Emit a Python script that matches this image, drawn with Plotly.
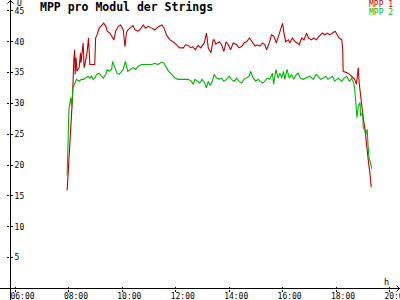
import plotly.graph_objects as go

# ---------------- data ----------------
mpp1_time = ["07:56","07:58","08:02","08:06","08:08","08:11","08:13","08:14","08:16","08:18",
             "08:23","08:26","08:27","08:32","08:34","08:36","08:41","08:44","08:45","08:47",
             "08:58","08:59","09:00","09:03","09:08","09:14","09:18","09:23","09:26","09:32",
             "09:38","09:41","09:45","09:51","09:56","10:02","10:05","10:06","10:09","10:12",
             "10:17","10:24","10:28","10:34","10:39","10:47","10:52","10:58","11:06","11:13",
             "11:20","11:29","11:34","11:39","11:47","11:54","12:02","12:09","12:17","12:22",
             "12:28","12:34","12:38","12:44","12:50","12:56","13:04","13:09","13:13","13:19",
             "13:24","13:26","13:30","13:38","13:43","13:48","13:53","13:58","14:03","14:09",
             "14:17","14:22","14:29","14:33","14:39","14:46","14:53","14:58","15:03","15:09",
             "15:15","15:20","15:24","15:30","15:35","15:40","15:46","15:51","15:55","16:00",
             "16:03","16:07","16:13","16:16","16:22","16:28","16:33","16:37","16:43","16:48",
             "16:54","16:58","17:05","17:10","17:16","17:22","17:30","17:35","17:40","17:46",
             "17:52","17:58","18:03","18:07","18:13","18:15","18:16","18:27","18:35","18:42",
             "18:46","18:48","18:50","18:52","18:55","18:58","19:01","19:05","19:07","19:10",
             "19:13","19:16","19:19"]
mpp1_val = [15.9,18.3,23.1,27.9,30.9,37.1,38.7,34.7,37.4,35.2,
            35.8,38.2,36.6,39.8,35.8,36.3,38.4,40.6,37.9,36.3,
            36.3,39.8,40.6,41.1,42.2,42.7,43.0,42.5,41.7,41.4,
            40.6,40.3,41.7,42.5,42.7,41.9,39.8,39.2,41.4,41.9,
            42.2,42.6,42.0,41.7,41.9,42.7,42.2,42.5,42.2,41.9,
            42.4,42.7,42.2,41.1,40.3,40.0,39.5,39.0,39.0,39.5,
            39.4,39.0,39.2,38.7,39.4,39.0,39.8,41.4,39.0,38.2,
            40.3,40.3,39.6,40.0,39.5,38.4,40.0,39.5,38.7,39.8,
            39.5,39.0,39.3,39.8,40.0,40.6,39.8,39.3,39.5,39.3,
            39.8,39.5,38.7,39.8,41.1,40.9,39.8,41.1,41.7,43.0,
            41.4,40.0,40.3,39.8,40.6,40.0,39.8,39.5,40.6,40.3,
            41.4,40.6,40.3,40.6,40.3,40.9,41.4,41.1,41.4,41.1,
            41.4,41.7,41.1,40.6,40.3,38.7,35.2,34.9,34.4,33.9,
            33.1,35.2,35.8,33.3,31.2,29.6,27.7,25.8,24.2,22.0,
            20.4,18.8,16.4]

mpp2_time = ["07:56","07:58","08:00","08:04","08:06","08:09","08:13","08:17","08:23","08:28",
             "08:33","08:38","08:43","08:47","08:51","08:54","08:58","09:02","09:08","09:13",
             "09:17","09:23","09:26","09:30","09:36","09:38","09:43","09:48","09:53","09:58",
             "10:02","10:06","10:07","10:12","10:17","10:24","10:30","10:35","10:43","10:54",
             "11:06","11:13","11:20","11:28","11:34","11:39","11:44","11:51","11:58","12:05",
             "12:17","12:28","12:35","12:39","12:43","12:49","12:54","12:59","13:05","13:09",
             "13:13","13:17","13:22","13:26","13:32","13:38","13:43","13:48","13:54","14:00",
             "14:05","14:11","14:17","14:22","14:28","14:33","14:39","14:45","14:48","14:54",
             "15:00","15:05","15:09","15:15","15:20","15:25","15:31","15:37","15:40","15:45",
             "15:50","15:54","15:58","16:02","16:05","16:10","16:15","16:20","16:25","16:31",
             "16:35","16:40","16:46","16:54","17:01","17:09","17:15","17:20","17:25","17:31",
             "17:37","17:42","17:46","17:52","17:57","18:05","18:13","18:18","18:24","18:30",
             "18:35","18:40","18:42","18:44","18:47","18:50","18:54","18:55","19:00","19:01",
             "19:05","19:07","19:10","19:12","19:14","19:18","19:20"]
mpp2_val = [18.3,23.1,29.0,30.9,29.6,32.5,33.3,33.9,33.6,33.9,
            33.9,34.1,34.4,34.1,34.4,33.9,34.1,34.7,34.9,34.4,
            34.1,34.7,35.5,35.2,35.5,36.8,35.8,34.9,34.7,35.2,
            35.5,36.6,36.8,35.2,35.5,35.8,35.5,36.0,36.3,36.3,
            36.3,36.5,36.3,36.7,36.5,35.8,35.2,34.7,34.1,33.9,
            33.9,33.9,33.6,33.1,33.9,33.6,33.3,33.9,33.3,32.5,
            33.6,32.9,33.6,34.7,34.1,33.9,34.1,33.6,33.9,34.4,
            33.9,33.6,34.1,33.6,33.3,33.9,34.1,34.4,35.2,34.1,
            33.6,33.9,33.6,33.3,33.6,34.1,33.9,34.9,33.1,35.5,
            34.1,34.9,34.1,35.2,33.9,35.5,34.1,34.7,33.9,34.7,
            34.9,34.1,33.9,34.1,34.4,33.9,34.7,34.4,33.9,34.1,
            34.4,33.9,34.1,34.4,33.6,34.1,33.6,34.1,34.4,33.6,
            34.1,33.3,32.3,30.9,27.7,29.6,30.1,28.0,28.5,26.1,
            25.6,25.0,25.8,23.1,21.2,20.2,19.4]

x_ticks = ["06:00","08:00","10:00","12:00","14:00","16:00","18:00","20:00"]
y_ticks = [5, 10, 15, 20, 25, 30, 35, 40, 45]
series_names = ["MPP 1", "MPP 2"]
title_text = "MPP pro Modul der Strings"
y_unit = "U"
x_unit = "h"

DAY = "2024-01-01 "
RED = "#c00000"
GREEN = "#00b400"
FONT = "DejaVu Sans Mono"

# ---------------- geometry (pixels) ----------------
W, H = 400, 300
ML, MB = 10, 11
PW, PH = W - ML, H - MB


def pxp(x, y):
    return (x - ML) / PW, (PH - y) / PH


fig = go.Figure()
fig.add_trace(go.Scatter(x=[DAY + t for t in mpp1_time], y=mpp1_val, mode="lines",
                         line=dict(color=RED, width=1.1), name=series_names[0],
                         showlegend=False))
fig.add_trace(go.Scatter(x=[DAY + t for t in mpp2_time], y=mpp2_val, mode="lines",
                         line=dict(color=GREEN, width=1.1), name=series_names[1],
                         showlegend=False))
fig.add_trace(go.Scatter(x=[], y=[], xaxis="x2", yaxis="y2", showlegend=False))

xr = [DAY + "05:47:38", DAY + "20:23:42"]
yr = [-0.08, 46.76]
tickfont = dict(family=FONT, size=8, color="black")

fig.update_layout(
    width=W, height=H,
    margin=dict(l=ML, r=0, t=0, b=MB, pad=0),
    paper_bgcolor="white", plot_bgcolor="white",
    xaxis=dict(type="date", range=xr, tickvals=[DAY + t for t in x_ticks],
               ticktext=x_ticks, ticks="inside", ticklen=2, tickcolor="black",
               tickwidth=1, showgrid=False, zeroline=False, showline=False,
               tickfont=tickfont, ticklabelshift=7, ticklabelstandoff=1,
               ticklabeloverflow="allow", automargin=False),
    xaxis2=dict(type="date", range=xr, overlaying="x", anchor="y2", side="bottom",
                tickvals=[DAY + t for t in x_ticks], ticks="outside", ticklen=2,
                tickcolor="black", showticklabels=False, showgrid=False,
                zeroline=False, showline=False, automargin=False),
    yaxis=dict(range=yr, tickvals=y_ticks, side="right", anchor="free", position=0,
               ticks="outside", ticklen=2, tickcolor="black", showgrid=False,
               zeroline=False, showline=False, tickfont=tickfont,
               ticklabeloverflow="allow", automargin=False),
    yaxis2=dict(range=yr, overlaying="y", anchor="x2", side="left",
                tickvals=y_ticks, ticks="outside", ticklen=2, tickcolor="black",
                showticklabels=False, showgrid=False, zeroline=False,
                showline=False, automargin=False),
)

shapes = []
# axis lines extending past origin
x0, y0 = pxp(10.5, 0)
x1, y1 = pxp(10.5, 300)
shapes.append(dict(type="line", xref="paper", yref="paper", x0=x0, y0=y0, x1=x1, y1=y1,
                   line=dict(color="black", width=1)))
x0, y0 = pxp(0, 288.5)
x1, y1 = pxp(400, 288.5)
shapes.append(dict(type="line", xref="paper", yref="paper", x0=x0, y0=y0, x1=x1, y1=y1,
                   line=dict(color="black", width=1)))
# arrow heads
for (ax, ay), (bx, by), (cx, cy) in [((7.5, 3.5), (10.5, 0.5), (13.5, 3.5)),
                                      ((396.5, 285.5), (399.5, 288.5), (396.5, 291.5))]:
    p = [pxp(ax, ay), pxp(bx, by), pxp(cx, cy)]
    path = "M {} {} L {} {} L {} {}".format(p[0][0], p[0][1], p[1][0], p[1][1], p[2][0], p[2][1])
    shapes.append(dict(type="path", xref="paper", yref="paper", path=path,
                       line=dict(color="black", width=1)))
fig.update_layout(shapes=shapes)


def txt(s, x, y, color="black", size=8, bold=False, xanchor="left"):
    xp, yp = pxp(x, y)
    fig.add_annotation(text=("<b>%s</b>" % s) if bold else s, x=xp, y=yp,
                       xref="paper", yref="paper", showarrow=False,
                       xanchor=xanchor, yanchor="middle", borderpad=0,
                       font=dict(family=FONT, size=size, color=color))


txt(title_text, 39, 7.5, size=11.5, bold=True)
txt(series_names[0], 368, 4.2, color=RED, size=8)
txt(series_names[1], 368, 12.2, color=GREEN, size=8)
txt(y_unit, 16, 4, size=8)
txt(x_unit, 383, 282, size=8.5)

fig.write_html("out.html")
